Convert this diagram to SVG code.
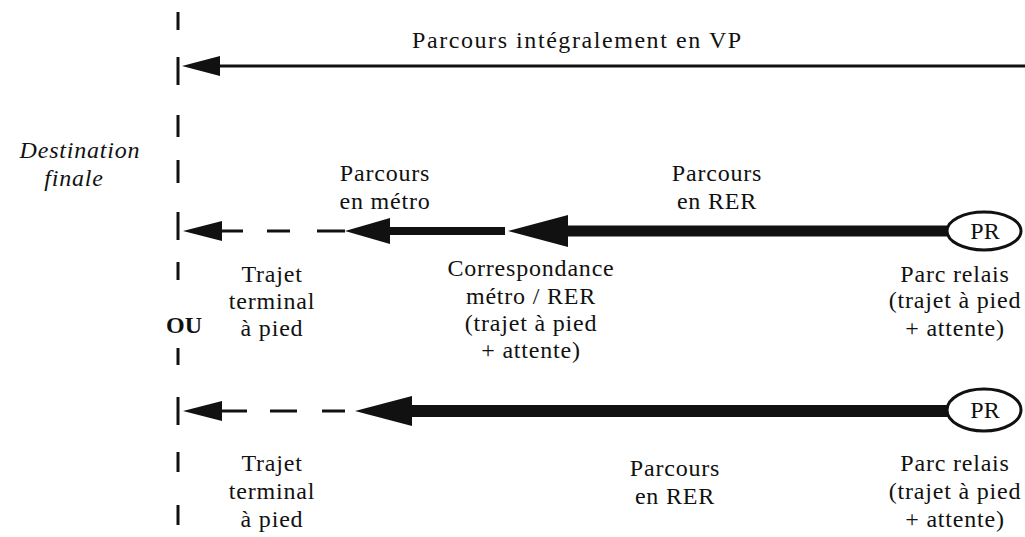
<svg xmlns="http://www.w3.org/2000/svg" width="1025" height="537" viewBox="0 0 1025 537">
<style>
text{font-family:"Liberation Serif","Times New Roman",serif;font-size:24px;fill:#111;letter-spacing:0.8px;text-anchor:middle}
.it{font-style:italic}
.b{font-weight:bold}
.axis{stroke:#111;stroke-width:3}
.thin{stroke:#111;stroke-width:3;fill:none}
.thick{stroke:#111;stroke-width:11;fill:none}
.dash{stroke:#111;stroke-width:3;fill:none}
.head{fill:#111}
.pr{fill:#fff;stroke:#111;stroke-width:3}
</style>
<g id="axis">
<line class="axis" x1="178" y1="12" x2="178" y2="30"/>
<line class="axis" x1="178" y1="57" x2="178" y2="85"/>
<line class="axis" x1="178" y1="115" x2="178" y2="137"/>
<line class="axis" x1="178" y1="160" x2="178" y2="183"/>
<line class="axis" x1="178" y1="212" x2="178" y2="240"/>
<line class="axis" x1="178" y1="262" x2="178" y2="280"/>
<line class="axis" x1="178" y1="348" x2="178" y2="365"/>
<line class="axis" x1="178" y1="397" x2="178" y2="425"/>
<line class="axis" x1="178" y1="452" x2="178" y2="472"/>
<line class="axis" x1="178" y1="505" x2="178" y2="525"/>
</g>
<g id="destination">
<text class="it" x="80" y="158">Destination</text>
<text class="it" x="74" y="186">finale</text>
</g>
<g id="ou"><text class="b" x="184" y="333" style="letter-spacing:0">OU</text></g>
<g id="connectors">
<line class="thin" x1="218" y1="66" x2="1025" y2="66"/>
<polygon class="head" points="182,66 220,56 220,76"/>
<polygon class="head" points="183,231 222,221 222,241"/>
<line class="dash" x1="220" y1="231" x2="243" y2="231"/>
<line class="dash" x1="267" y1="231" x2="290" y2="231"/>
<line class="dash" x1="317" y1="231" x2="345" y2="231"/>
<polygon class="head" points="345,231 390,218 390,244"/>
<line class="thick" x1="388" y1="231" x2="505" y2="231" style="stroke-width:8"/>
<polygon class="head" points="508,231 568,215 568,247"/>
<line class="thick" x1="565" y1="231" x2="950" y2="231"/>
<polygon class="head" points="183,411 222,401 222,421"/>
<line class="dash" x1="220" y1="411" x2="247" y2="411"/>
<line class="dash" x1="270" y1="411" x2="297" y2="411"/>
<line class="dash" x1="322" y1="411" x2="345" y2="411"/>
<polygon class="head" points="355,411 412,396 412,426"/>
<line class="thick" x1="410" y1="411" x2="950" y2="411" style="stroke-width:12"/>
</g>
<g id="pr1">
<ellipse class="pr" cx="984" cy="231" rx="37" ry="19"/>
<text x="985" y="239" style="letter-spacing:0">PR</text>
</g>
<g id="pr2">
<ellipse class="pr" cx="984" cy="410" rx="37" ry="21"/>
<text x="985" y="418" style="letter-spacing:0">PR</text>
</g>
<g id="labels">
<text x="577" y="48" textLength="330" lengthAdjust="spacing">Parcours intégralement en VP</text>
<text x="385" y="181">Parcours</text>
<text x="385" y="209">en métro</text>
<text x="717" y="181">Parcours</text>
<text x="717" y="209">en RER</text>
<text x="531" y="276">Correspondance</text>
<text x="531" y="304">métro / RER</text>
<text x="531" y="331">(trajet à pied</text>
<text x="531" y="358">+ attente)</text>
<text x="272" y="282">Trajet</text>
<text x="272" y="309">terminal</text>
<text x="272" y="336">à pied</text>
<text x="955" y="282">Parc relais</text>
<text x="955" y="308">(trajet à pied</text>
<text x="955" y="336">+ attente)</text>
<text x="272" y="471">Trajet</text>
<text x="272" y="499">terminal</text>
<text x="272" y="527">à pied</text>
<text x="675" y="476">Parcours</text>
<text x="675" y="504">en RER</text>
<text x="955" y="471">Parc relais</text>
<text x="955" y="499">(trajet à pied</text>
<text x="955" y="527">+ attente)</text>
</g>
</svg>
